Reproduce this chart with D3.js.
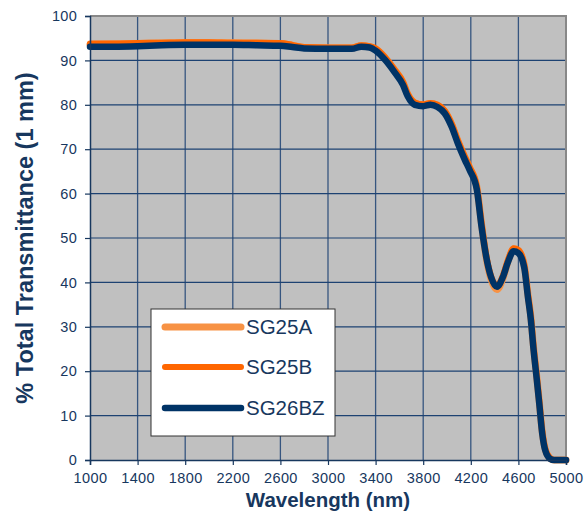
<!DOCTYPE html>
<html>
<head>
<meta charset="utf-8">
<script src="https://cdn.jsdelivr.net/npm/d3@7"></script>
<style>
  body { margin: 0; background: #fff; }
  svg { display: block; }
  .tick text { font-family: "Liberation Sans", Arial, sans-serif; fill: #17375e; }
</style>
</head>
<body>
<div id="chart"></div>
<script>
// wavelengths (nm), shared by all three samples
const wavelength = [1000, 1200, 1400, 1600, 1800, 2000, 2200, 2400, 2600, 2700, 2800, 3000, 3200, 3280, 3350, 3400,
  3480, 3560, 3630, 3670, 3730, 3800, 3860, 3920, 3980, 4040, 4090, 4150, 4190, 4250, 4290, 4330, 4370, 4420,
  4470, 4510, 4560, 4600, 4650, 4680, 4705, 4725, 4755, 4775, 4800, 4825, 4865, 4900, 5000];

const sg25a = [93.6, 93.7, 93.8, 93.9, 94.0, 94.0, 94.0, 93.9, 93.8, 93.4, 92.9, 92.8, 92.8, 93.3, 93.1, 92.6,
  90.6, 87.9, 85.1, 82.4, 80.4, 79.9, 80.3, 79.9, 78.6, 75.6, 72.0, 68.2, 65.9, 61.6, 53.2, 45.5, 40.7, 38.4,
  40.9, 44.5, 47.5, 47.2, 43.8, 37.3, 32.1, 26.1, 18.6, 13.3, 6.4, 2.5, 0.4, 0, 0];
const sg25b = [93.8, 93.8, 93.9, 94.0, 94.1, 94.1, 94.0, 94.0, 93.9, 93.5, 93.0, 92.9, 92.9, 93.4, 93.2, 92.7,
  90.7, 87.9, 85.2, 82.5, 80.5, 80.1, 80.4, 80.0, 78.7, 75.7, 72.1, 68.3, 66.0, 61.7, 53.5, 46.1, 41.5, 39.3,
  41.6, 44.9, 47.7, 47.3, 43.9, 37.4, 32.2, 26.2, 18.7, 13.4, 6.6, 2.6, 0.5, 0, 0];
const sg26bz = [93.1, 93.1, 93.2, 93.4, 93.5, 93.5, 93.5, 93.4, 93.3, 93.0, 92.7, 92.6, 92.6, 93.1, 92.9, 92.2,
  90.1, 87.3, 84.5, 81.9, 80.0, 79.7, 80.0, 79.5, 78.1, 75.0, 71.4, 67.6, 65.3, 61.0, 52.6, 45.7, 41.2, 39.0,
  41.2, 44.4, 47.0, 46.6, 43.2, 36.7, 31.5, 25.5, 18.0, 12.8, 6.0, 2.2, 0.3, 0, 0];

const seriesNames = ['SG25A', 'SG25B', 'SG26BZ'];
const seriesColors = ['#f79244', '#ff6600', '#003366'];
const seriesWidths = [7, 6, 6.5];
const seriesValues = [sg25a, sg25b, sg26bz];

const xTicks = [1000, 1400, 1800, 2200, 2600, 3000, 3400, 3800, 4200, 4600, 5000];
const yTicks = [0, 10, 20, 30, 40, 50, 60, 70, 80, 90, 100];

const width = 587;
const height = 519;
const margin = { top: 16, right: 21, bottom: 59, left: 90 };
const navy = '#17375e';

const svg = d3.select('#chart').append('svg')
    .attr('width', width)
    .attr('height', height);

const x = d3.scaleLinear()
    .domain([1000, 5000])
    .range([margin.left, width - margin.right]);
const y = d3.scaleLinear()
    .domain([0, 100])
    .range([height - margin.bottom, margin.top]);

// plot background
svg.append('rect')
    .attr('x', x(1000))
    .attr('y', y(100))
    .attr('width', x(5000) - x(1000))
    .attr('height', y(0) - y(100))
    .attr('fill', '#c0c0c0');

// grid
svg.append('g')
    .selectAll('line')
    .data(xTicks.slice(1, -1))
    .join('line')
    .attr('x1', d => x(d)).attr('x2', d => x(d))
    .attr('y1', y(100)).attr('y2', y(0))
    .attr('stroke', '#36557f')
    .attr('stroke-width', 1.3);
svg.append('g')
    .selectAll('line')
    .data(yTicks.slice(1, -1))
    .join('line')
    .attr('x1', x(1000)).attr('x2', x(5000))
    .attr('y1', d => y(d)).attr('y2', d => y(d))
    .attr('stroke', '#1d4272')
    .attr('stroke-width', 1.2);

// gray frame on top and right
svg.append('path')
    .attr('d', `M${x(1000)},${y(100)}H${x(5000)}V${y(0)}`)
    .attr('fill', 'none')
    .attr('stroke', '#888')
    .attr('stroke-width', 2);

// series
const line = d3.line()
    .x((d, i) => x(wavelength[i]))
    .y(d => y(d))
    .curve(d3.curveMonotoneX);

svg.append('g')
    .selectAll('path')
    .data(seriesValues)
    .join('path')
    .attr('d', d => line(d))
    .attr('fill', 'none')
    .attr('stroke', (d, i) => seriesColors[i])
    .attr('stroke-width', (d, i) => seriesWidths[i])
    .attr('stroke-linejoin', 'round')
    .attr('stroke-linecap', 'round');

// axes
const xAxis = svg.append('g')
    .attr('transform', `translate(0,${y(0)})`)
    .call(d3.axisBottom(x).tickValues(xTicks).tickSize(5).tickPadding(8).tickFormat(d3.format('d')));
xAxis.selectAll('text')
    .attr('font-size', '14.5px')
    .attr('letter-spacing', '0.4px');

const yAxis = svg.append('g')
    .attr('transform', `translate(${x(1000)},0)`)
    .call(d3.axisLeft(y).tickValues(yTicks).tickSize(5).tickPadding(8));
yAxis.selectAll('text')
    .attr('font-size', '14.5px')
    .attr('letter-spacing', '0.3px');

[xAxis, yAxis].forEach(axis => {
    axis.select('.domain').attr('stroke', navy).attr('stroke-width', 1.5);
    axis.selectAll('.tick line').attr('stroke', navy).attr('stroke-width', 1.2);
});

// axis titles
svg.append('text')
    .attr('x', (x(1000) + x(5000)) / 2)
    .attr('y', 507)
    .attr('text-anchor', 'middle')
    .attr('font-family', '"Liberation Sans", Arial, sans-serif')
    .attr('font-weight', 'bold')
    .attr('font-size', '20.5px')
    .attr('fill', navy)
    .text('Wavelength (nm)');

svg.append('text')
    .attr('transform', `translate(33,238) rotate(-90)`)
    .attr('text-anchor', 'middle')
    .attr('font-family', '"Liberation Sans", Arial, sans-serif')
    .attr('font-weight', 'bold')
    .attr('font-size', '23.5px')
    .attr('fill', navy)
    .text('% Total Transmittance (1 mm)');

// legend
const legend = svg.append('g')
    .attr('transform', 'translate(151,309)');
legend.append('rect')
    .attr('width', 184)
    .attr('height', 127)
    .attr('fill', '#fff')
    .attr('stroke', '#333')
    .attr('stroke-width', 1);

const legendRows = legend.selectAll('.legend-row')
    .data(seriesNames)
    .join('g')
    .attr('class', 'legend-row')
    .attr('transform', (d, i) => `translate(0,${[18, 58, 99][i]})`);
legendRows.append('line')
    .attr('x1', 14).attr('x2', 90)
    .attr('y1', 0).attr('y2', 0)
    .attr('stroke', (d, i) => seriesColors[i])
    .attr('stroke-width', (d, i) => seriesWidths[i])
    .attr('stroke-linecap', 'round');
legendRows.append('text')
    .attr('x', 95)
    .attr('y', 7)
    .attr('font-family', '"Liberation Sans", Arial, sans-serif')
    .attr('font-size', '20.5px')
    .attr('fill', navy)
    .text(d => d);
</script>
</body>
</html>
